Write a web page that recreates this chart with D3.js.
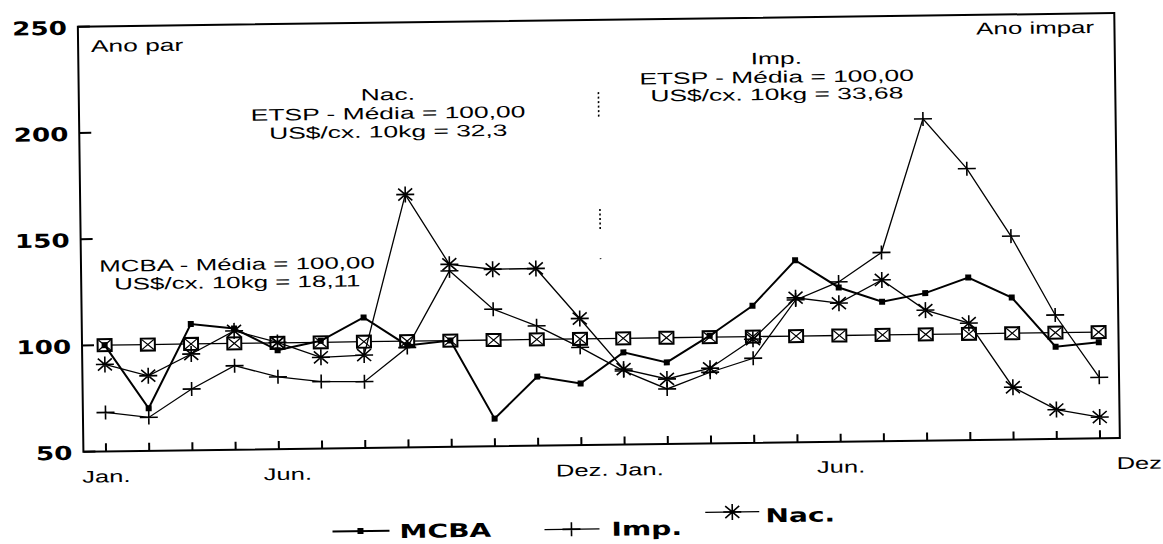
<!DOCTYPE html>
<html>
<head>
<meta charset="utf-8">
<script src="https://cdn.jsdelivr.net/npm/d3@7/dist/d3.min.js"></script>
<style>
  body { margin: 0; background: #fff; }
  text { font-family: "Liberation Sans", Arial, sans-serif; fill: #000; }
  .num, .leg { font-family: "DejaVu Sans", sans-serif; font-weight: bold; }
</style>
</head>
<body>
<svg id="chart" width="1163" height="544"></svg>
<script>
// months of the two years (ano par, ano impar)
const months = ["Jan.","Fev.","Mar.","Abr.","Mai.","Jun.","Jul.","Ago.","Set.","Out.","Nov.","Dez."];
const categories = months.map(m => m + " par").concat(months.map(m => m + " impar"));

// index values (média = 100)
const mcba = [100, 70, 109.4, 107, 96.5, 100.7, 111.4, 98, 100, 63, 82.5, 79,
              93.4, 88.4, 100.7, 114.5, 135.7, 122.6, 115.6, 119.4, 126.5, 116.8, 93.4, 95.2];
const imp  = [68.3, 65.7, 78.8, 89.5, 84, 81.5, 81.2, 97, 132.8, 114.5, 106.4, 96,
              84.7, 75.9, 83.5, 89.8, 117, 125.2, 138.8, 201.4, 177.7, 145.7, 108.3, 78.7];
const nac  = [90.9, 85.3, 95.3, 105.9, 100.2, 92.9, 93.7, 169, 135.9, 133.3, 133.4, 109.6,
              85.5, 80.6, 85.4, 98.8, 118, 115.2, 125.9, 111.4, 105, 74.6, 63.8, 60];
const media = [100, 100, 100, 100, 100, 100, 100, 100, 100, 100, 100, 100,
               100, 100, 100, 100, 100, 100, 100, 100, 100, 100, 100, 100];

const yTicks = [50, 100, 150, 200, 250];
const xTickLabels = ["Jan.", "Jun.", "Dez. Jan.", "Jun.", "Dez"];
const xTickAt = [0, 4.2, 11.65, 17, 23.9];   // in month-index units
const dividerSegs = [[204, 216], [151, 161], [137.4, 137.8]];  // dotted year divider, value units

const SX = 1.6;   // the scanned original is stretched horizontally

const svg = d3.select("#chart");
const root = svg.append("g").attr("transform", "rotate(-0.75, 590, 340)");

const frame = {left: 82, right: 1118.5, top: 20, bottom: 445};

const x = d3.scaleLinear().domain([0, 23]).range([104.6, 1098.7]);
const y = d3.scaleLinear().domain([50, 250]).range([frame.bottom, frame.top]);

function label(g, px, py, str, anchor, cls, sx, size) {
  g.append("text")
    .attr("class", cls || null)
    .attr("transform", `translate(${px},${py}) scale(${sx || SX},1)`)
    .attr("text-anchor", anchor || "start")
    .style("font-size", (size || 16.5) + "px")
    .text(str);
}

// frame
root.append("rect")
  .attr("x", frame.left).attr("y", frame.top)
  .attr("width", frame.right - frame.left).attr("height", frame.bottom - frame.top)
  .attr("fill", "none").attr("stroke", "#000").attr("stroke-width", 2);

// y ticks + labels
root.selectAll(".ytick").data(yTicks).join("line")
  .attr("x1", frame.left).attr("x2", frame.left + 12)
  .attr("y1", d => y(d)).attr("y2", d => y(d))
  .attr("stroke", "#000").attr("stroke-width", 2);
yTicks.forEach(v => label(root, 71, y(v) + 8, String(v), "end", "num", 1.38, 19));

// x ticks
root.selectAll(".xtick").data(categories).join("line")
  .attr("x1", (d, i) => x(i)).attr("x2", (d, i) => x(i))
  .attr("y1", frame.bottom).attr("y2", frame.bottom - 8)
  .attr("stroke", "#000").attr("stroke-width", 2);
xTickLabels.forEach((t, i) => label(root, x(xTickAt[i]), 476, t, "middle", null, 1.5, 17));

// dotted divider between the years
root.selectAll(".div").data(dividerSegs).join("line")
  .attr("x1", x(11.5)).attr("x2", x(11.5))
  .attr("y1", d => y(d[1])).attr("y2", d => y(d[0]))
  .attr("stroke", "#000").attr("stroke-width", 1.6)
  .attr("stroke-dasharray", "2,2.5");

// annotations
label(root, 94.8, 45.5, "Ano par", "start", null, 1.55, 17);
label(root, 1098, 39.6, "Ano impar", "end", null, 1.52, 17);
label(root, 391, 97.4, "Nac.", "middle");
label(root, 391, 116.4, "ETSP - Média = 100,00", "middle");
label(root, 391, 134.7, "US$/cx. 10kg = 32,3", "middle");
label(root, 780, 66.4, "Imp.", "middle");
label(root, 780, 85.1, "ETSP - Média = 100,00", "middle");
label(root, 780, 102.4, "US$/cx. 10kg = 33,68", "middle");
label(root, 238, 265.4, "MCBA - Média = 100,00", "middle", null, 1.57);
label(root, 238, 283.4, "US$/cx. 10kg = 18,11", "middle", null, 1.57);

// markers
const plusPath = "M-9,0H9M0,-7V7";
const starPath = "M-9,0H9M0,-8V8M-7,-6L7,6M-7,6L7,-6";
function drawBox(g, cx, cy) {
  g.append("rect").attr("x", cx - 7).attr("y", cy - 6).attr("width", 14).attr("height", 12)
    .attr("fill", "#fff").attr("stroke", "#000").attr("stroke-width", 2);
  g.append("path").attr("d", `M${cx - 6},${cy - 5}L${cx + 6},${cy + 5}M${cx - 6},${cy + 5}L${cx + 6},${cy - 5}`)
    .attr("stroke", "#000").attr("stroke-width", 1.2);
}

const line = d3.line().x((d, i) => x(i)).y(d => y(d));

// média reference line with boxed markers
root.append("path").datum(media).attr("d", line)
  .attr("fill", "none").attr("stroke", "#000").attr("stroke-width", 1.3);
const gBox = root.append("g");
media.forEach((v, i) => drawBox(gBox, x(i), y(v)));

// Imp.
root.append("path").datum(imp).attr("d", line)
  .attr("fill", "none").attr("stroke", "#000").attr("stroke-width", 1.3);
root.selectAll(".imp").data(imp).join("path")
  .attr("transform", (d, i) => `translate(${x(i)},${y(d)})`)
  .attr("d", plusPath).attr("stroke", "#000").attr("stroke-width", 1.6);

// Nac.
root.append("path").datum(nac).attr("d", line)
  .attr("fill", "none").attr("stroke", "#000").attr("stroke-width", 1.3);
root.selectAll(".nac").data(nac).join("path")
  .attr("transform", (d, i) => `translate(${x(i)},${y(d)})`)
  .attr("d", starPath).attr("stroke", "#000").attr("stroke-width", 1.6);

// MCBA
root.append("path").datum(mcba).attr("d", line)
  .attr("fill", "none").attr("stroke", "#000").attr("stroke-width", 2);
root.selectAll(".mcba").data(mcba).join("rect")
  .attr("x", (d, i) => x(i) - 3).attr("y", d => y(d) - 3)
  .attr("width", 6).attr("height", 6).attr("fill", "#000");

// legend
const leg = root.append("g");
leg.append("line").attr("x1", 330).attr("x2", 387).attr("y1", 528).attr("y2", 528)
  .attr("stroke", "#000").attr("stroke-width", 2);
leg.append("rect").attr("x", 355).attr("y", 525).attr("width", 6).attr("height", 6).attr("fill", "#000");
label(leg, 397, 535.5, "MCBA", "start", "leg", 1.48, 19);

leg.append("line").attr("x1", 542).attr("x2", 597).attr("y1", 529).attr("y2", 529)
  .attr("stroke", "#000").attr("stroke-width", 1.3);
leg.append("path").attr("transform", "translate(569,529)").attr("d", plusPath)
  .attr("stroke", "#000").attr("stroke-width", 1.6);
label(leg, 609, 536, "Imp.", "start", "leg", 1.48, 19);

leg.append("line").attr("x1", 703).attr("x2", 757).attr("y1", 513.8).attr("y2", 513.8)
  .attr("stroke", "#000").attr("stroke-width", 1.3);
leg.append("path").attr("transform", "translate(730,513.8)").attr("d", starPath)
  .attr("stroke", "#000").attr("stroke-width", 1.6);
label(leg, 763, 524.6, "Nac.", "start", "leg", 1.48, 19);
</script>
</body>
</html>
